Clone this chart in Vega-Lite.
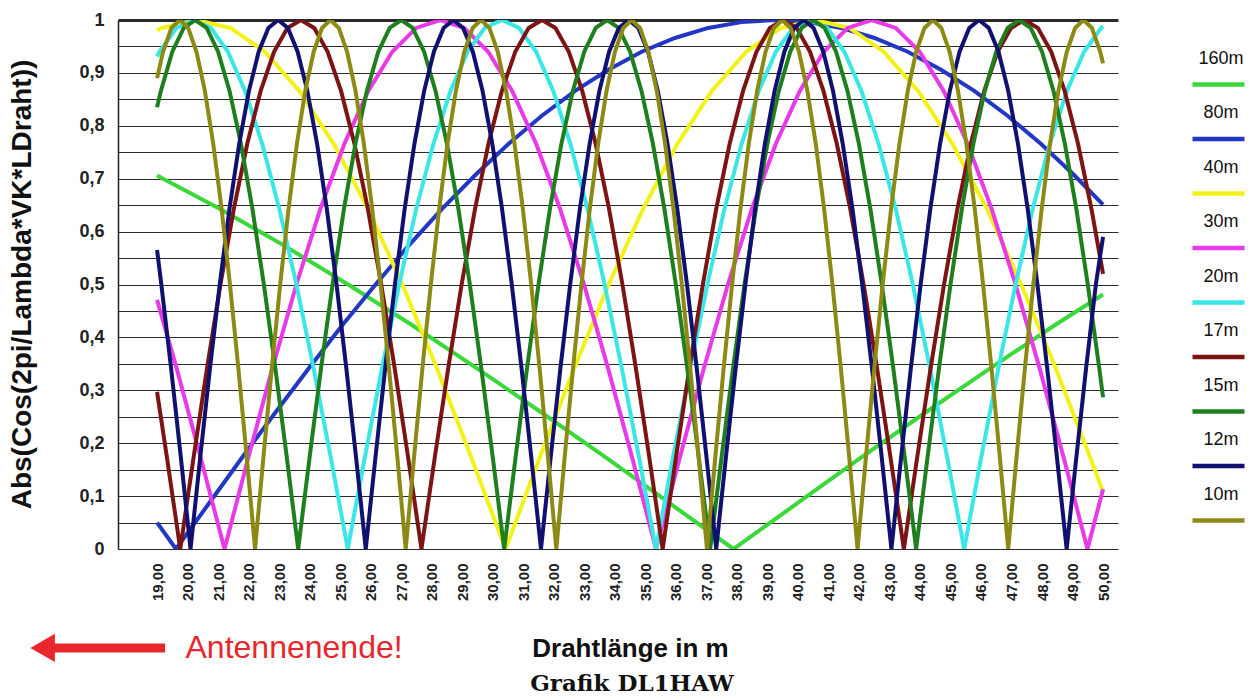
{
"$schema": "https://vega.github.io/schema/vega-lite/v6.json",
"width": 1000, "height": 529,
"autosize": {"type": "none"},
"padding": {"left": 118, "top": 20, "right": 137, "bottom": 151},
"background": "white",
"config": {"font": "Liberation Sans", "view": {"stroke": null},
"axisX": {"labelAngle": -90, "labelFontSize": 15, "labelFontWeight": "bold", "labelColor": "#222", "labelPadding": 14, "labelOverlap": false, "labelFlush": false, "labelBound": false,
"ticks": false, "domain": false, "grid": false,
"titleFontSize": 26, "titleFontWeight": "bold", "titleColor": "#111", "titleX": 512, "titleY": 99, "titleBaseline": "middle", "titleAlign": "center"},
"axisY": {"labelOverlap": false, "labelFlush": false, "labelBound": false, "labelFontSize": 18, "labelFontWeight": "bold", "labelColor": "#222", "labelPadding": 14,
"grid": true, "gridColor": "#2a2a2a", "gridOpacity": 1,
"ticks": false, "domain": true, "domainColor": "#222", "domainWidth": 1.5,
"titleFontSize": 28, "titleFontWeight": "bold", "titleColor": "#111", "titleX": -96, "titleY": 264, "titleAngle": 270, "titleAlign": "center", "titleBaseline": "middle"}
},
"title": {"text": "Grafik DL1HAW", "orient": "bottom", "anchor": "middle", "font": "DejaVu Serif", "fontSize": 23, "fontWeight": "bold", "color": "#111", "offset": 9, "dx": 14},
"datasets": {
"curves": [
{"band":"160m","len":19,"val":0.706},{"band":"160m","len":21.05,"val":0.643},{"band":"160m","len":23.155,"val":0.574},{"band":"160m","len":25.26,"val":0.5},{"band":"160m","len":27.365,"val":0.423},{"band":"160m","len":29.47,"val":0.342},{"band":"160m","len":31.575,"val":0.259},{"band":"160m","len":33.68,"val":0.174},{"band":"160m","len":35.785,"val":0.087},{"band":"160m","len":37.89,"val":0},{"band":"160m","len":39.995,"val":0.087},{"band":"160m","len":42.1,"val":0.174},{"band":"160m","len":44.205,"val":0.259},{"band":"160m","len":46.31,"val":0.342},{"band":"160m","len":48.415,"val":0.423},{"band":"160m","len":50,"val":0.481},
{"band":"80m","len":19,"val":0.05},{"band":"80m","len":19.62,"val":0},{"band":"80m","len":20.71,"val":0.087},{"band":"80m","len":21.8,"val":0.174},{"band":"80m","len":22.89,"val":0.259},{"band":"80m","len":23.98,"val":0.342},{"band":"80m","len":25.07,"val":0.423},{"band":"80m","len":26.16,"val":0.5},{"band":"80m","len":27.25,"val":0.574},{"band":"80m","len":28.34,"val":0.643},{"band":"80m","len":29.43,"val":0.707},{"band":"80m","len":30.52,"val":0.766},{"band":"80m","len":31.61,"val":0.819},{"band":"80m","len":32.7,"val":0.866},{"band":"80m","len":33.79,"val":0.906},{"band":"80m","len":34.88,"val":0.94},{"band":"80m","len":35.97,"val":0.966},{"band":"80m","len":37.06,"val":0.985},{"band":"80m","len":38.15,"val":0.996},{"band":"80m","len":39.24,"val":1},{"band":"80m","len":40.33,"val":0.996},{"band":"80m","len":41.42,"val":0.985},{"band":"80m","len":42.51,"val":0.966},{"band":"80m","len":43.6,"val":0.94},{"band":"80m","len":44.69,"val":0.906},{"band":"80m","len":45.78,"val":0.866},{"band":"80m","len":46.87,"val":0.819},{"band":"80m","len":47.96,"val":0.766},{"band":"80m","len":49.05,"val":0.707},{"band":"80m","len":50,"val":0.651},
{"band":"40m","len":19,"val":0.98},{"band":"40m","len":19.153,"val":0.985},{"band":"40m","len":20.28,"val":1},{"band":"40m","len":21.407,"val":0.985},{"band":"40m","len":22.533,"val":0.94},{"band":"40m","len":23.66,"val":0.866},{"band":"40m","len":24.787,"val":0.766},{"band":"40m","len":25.913,"val":0.643},{"band":"40m","len":27.04,"val":0.5},{"band":"40m","len":28.167,"val":0.342},{"band":"40m","len":29.293,"val":0.174},{"band":"40m","len":30.42,"val":0},{"band":"40m","len":31.547,"val":0.174},{"band":"40m","len":32.673,"val":0.342},{"band":"40m","len":33.8,"val":0.5},{"band":"40m","len":34.927,"val":0.643},{"band":"40m","len":36.053,"val":0.766},{"band":"40m","len":37.18,"val":0.866},{"band":"40m","len":38.307,"val":0.94},{"band":"40m","len":39.433,"val":0.985},{"band":"40m","len":40.56,"val":1},{"band":"40m","len":41.687,"val":0.985},{"band":"40m","len":42.813,"val":0.94},{"band":"40m","len":43.94,"val":0.866},{"band":"40m","len":45.067,"val":0.766},{"band":"40m","len":46.193,"val":0.643},{"band":"40m","len":47.32,"val":0.5},{"band":"40m","len":48.447,"val":0.342},{"band":"40m","len":49.573,"val":0.174},{"band":"40m","len":50,"val":0.108},
{"band":"30m","len":19,"val":0.471},{"band":"30m","len":19.639,"val":0.342},{"band":"30m","len":20.424,"val":0.174},{"band":"30m","len":21.21,"val":0},{"band":"30m","len":21.996,"val":0.174},{"band":"30m","len":22.781,"val":0.342},{"band":"30m","len":23.567,"val":0.5},{"band":"30m","len":24.352,"val":0.643},{"band":"30m","len":25.138,"val":0.766},{"band":"30m","len":25.923,"val":0.866},{"band":"30m","len":26.709,"val":0.94},{"band":"30m","len":27.494,"val":0.985},{"band":"30m","len":28.28,"val":1},{"band":"30m","len":29.066,"val":0.985},{"band":"30m","len":29.851,"val":0.94},{"band":"30m","len":30.637,"val":0.866},{"band":"30m","len":31.422,"val":0.766},{"band":"30m","len":32.208,"val":0.643},{"band":"30m","len":32.993,"val":0.5},{"band":"30m","len":33.779,"val":0.342},{"band":"30m","len":34.564,"val":0.174},{"band":"30m","len":35.35,"val":0},{"band":"30m","len":36.136,"val":0.174},{"band":"30m","len":36.921,"val":0.342},{"band":"30m","len":37.707,"val":0.5},{"band":"30m","len":38.492,"val":0.643},{"band":"30m","len":39.278,"val":0.766},{"band":"30m","len":40.063,"val":0.866},{"band":"30m","len":40.849,"val":0.94},{"band":"30m","len":41.634,"val":0.985},{"band":"30m","len":42.42,"val":1},{"band":"30m","len":43.206,"val":0.985},{"band":"30m","len":43.991,"val":0.94},{"band":"30m","len":44.777,"val":0.866},{"band":"30m","len":45.562,"val":0.766},{"band":"30m","len":46.348,"val":0.643},{"band":"30m","len":47.133,"val":0.5},{"band":"30m","len":47.919,"val":0.342},{"band":"30m","len":48.704,"val":0.174},{"band":"30m","len":49.49,"val":0},{"band":"30m","len":50,"val":0.113},
{"band":"20m","len":19,"val":0.931},{"band":"20m","len":19.078,"val":0.94},{"band":"20m","len":19.639,"val":0.985},{"band":"20m","len":20.2,"val":1},{"band":"20m","len":20.761,"val":0.985},{"band":"20m","len":21.322,"val":0.94},{"band":"20m","len":21.883,"val":0.866},{"band":"20m","len":22.444,"val":0.766},{"band":"20m","len":23.006,"val":0.643},{"band":"20m","len":23.567,"val":0.5},{"band":"20m","len":24.128,"val":0.342},{"band":"20m","len":24.689,"val":0.174},{"band":"20m","len":25.25,"val":0},{"band":"20m","len":25.811,"val":0.174},{"band":"20m","len":26.372,"val":0.342},{"band":"20m","len":26.933,"val":0.5},{"band":"20m","len":27.494,"val":0.643},{"band":"20m","len":28.056,"val":0.766},{"band":"20m","len":28.617,"val":0.866},{"band":"20m","len":29.178,"val":0.94},{"band":"20m","len":29.739,"val":0.985},{"band":"20m","len":30.3,"val":1},{"band":"20m","len":30.861,"val":0.985},{"band":"20m","len":31.422,"val":0.94},{"band":"20m","len":31.983,"val":0.866},{"band":"20m","len":32.544,"val":0.766},{"band":"20m","len":33.106,"val":0.643},{"band":"20m","len":33.667,"val":0.5},{"band":"20m","len":34.228,"val":0.342},{"band":"20m","len":34.789,"val":0.174},{"band":"20m","len":35.35,"val":0},{"band":"20m","len":35.911,"val":0.174},{"band":"20m","len":36.472,"val":0.342},{"band":"20m","len":37.033,"val":0.5},{"band":"20m","len":37.594,"val":0.643},{"band":"20m","len":38.156,"val":0.766},{"band":"20m","len":38.717,"val":0.866},{"band":"20m","len":39.278,"val":0.94},{"band":"20m","len":39.839,"val":0.985},{"band":"20m","len":40.4,"val":1},{"band":"20m","len":40.961,"val":0.985},{"band":"20m","len":41.522,"val":0.94},{"band":"20m","len":42.083,"val":0.866},{"band":"20m","len":42.644,"val":0.766},{"band":"20m","len":43.206,"val":0.643},{"band":"20m","len":43.767,"val":0.5},{"band":"20m","len":44.328,"val":0.342},{"band":"20m","len":44.889,"val":0.174},{"band":"20m","len":45.45,"val":0},{"band":"20m","len":46.011,"val":0.174},{"band":"20m","len":46.572,"val":0.342},{"band":"20m","len":47.133,"val":0.5},{"band":"20m","len":47.694,"val":0.643},{"band":"20m","len":48.256,"val":0.766},{"band":"20m","len":48.817,"val":0.866},{"band":"20m","len":49.378,"val":0.94},{"band":"20m","len":49.939,"val":0.985},{"band":"20m","len":50,"val":0.988},
{"band":"17m","len":19,"val":0.297},{"band":"17m","len":19.321,"val":0.174},{"band":"17m","len":19.76,"val":0},{"band":"17m","len":20.199,"val":0.174},{"band":"17m","len":20.638,"val":0.342},{"band":"17m","len":21.077,"val":0.5},{"band":"17m","len":21.516,"val":0.643},{"band":"17m","len":21.956,"val":0.766},{"band":"17m","len":22.395,"val":0.866},{"band":"17m","len":22.834,"val":0.94},{"band":"17m","len":23.273,"val":0.985},{"band":"17m","len":23.712,"val":1},{"band":"17m","len":24.151,"val":0.985},{"band":"17m","len":24.59,"val":0.94},{"band":"17m","len":25.029,"val":0.866},{"band":"17m","len":25.468,"val":0.766},{"band":"17m","len":25.908,"val":0.643},{"band":"17m","len":26.347,"val":0.5},{"band":"17m","len":26.786,"val":0.342},{"band":"17m","len":27.225,"val":0.174},{"band":"17m","len":27.664,"val":0},{"band":"17m","len":28.103,"val":0.174},{"band":"17m","len":28.542,"val":0.342},{"band":"17m","len":28.981,"val":0.5},{"band":"17m","len":29.42,"val":0.643},{"band":"17m","len":29.86,"val":0.766},{"band":"17m","len":30.299,"val":0.866},{"band":"17m","len":30.738,"val":0.94},{"band":"17m","len":31.177,"val":0.985},{"band":"17m","len":31.616,"val":1},{"band":"17m","len":32.055,"val":0.985},{"band":"17m","len":32.494,"val":0.94},{"band":"17m","len":32.933,"val":0.866},{"band":"17m","len":33.372,"val":0.766},{"band":"17m","len":33.812,"val":0.643},{"band":"17m","len":34.251,"val":0.5},{"band":"17m","len":34.69,"val":0.342},{"band":"17m","len":35.129,"val":0.174},{"band":"17m","len":35.568,"val":0},{"band":"17m","len":36.007,"val":0.174},{"band":"17m","len":36.446,"val":0.342},{"band":"17m","len":36.885,"val":0.5},{"band":"17m","len":37.324,"val":0.643},{"band":"17m","len":37.764,"val":0.766},{"band":"17m","len":38.203,"val":0.866},{"band":"17m","len":38.642,"val":0.94},{"band":"17m","len":39.081,"val":0.985},{"band":"17m","len":39.52,"val":1},{"band":"17m","len":39.959,"val":0.985},{"band":"17m","len":40.398,"val":0.94},{"band":"17m","len":40.837,"val":0.866},{"band":"17m","len":41.276,"val":0.766},{"band":"17m","len":41.716,"val":0.643},{"band":"17m","len":42.155,"val":0.5},{"band":"17m","len":42.594,"val":0.342},{"band":"17m","len":43.033,"val":0.174},{"band":"17m","len":43.472,"val":0},{"band":"17m","len":43.911,"val":0.174},{"band":"17m","len":44.35,"val":0.342},{"band":"17m","len":44.789,"val":0.5},{"band":"17m","len":45.228,"val":0.643},{"band":"17m","len":45.668,"val":0.766},{"band":"17m","len":46.107,"val":0.866},{"band":"17m","len":46.546,"val":0.94},{"band":"17m","len":46.985,"val":0.985},{"band":"17m","len":47.424,"val":1},{"band":"17m","len":47.863,"val":0.985},{"band":"17m","len":48.302,"val":0.94},{"band":"17m","len":48.741,"val":0.866},{"band":"17m","len":49.18,"val":0.766},{"band":"17m","len":49.62,"val":0.643},{"band":"17m","len":50,"val":0.52},
{"band":"15m","len":19,"val":0.835},{"band":"15m","len":19.125,"val":0.866},{"band":"15m","len":19.5,"val":0.94},{"band":"15m","len":19.875,"val":0.985},{"band":"15m","len":20.25,"val":1},{"band":"15m","len":20.625,"val":0.985},{"band":"15m","len":21.0,"val":0.94},{"band":"15m","len":21.375,"val":0.866},{"band":"15m","len":21.75,"val":0.766},{"band":"15m","len":22.125,"val":0.643},{"band":"15m","len":22.5,"val":0.5},{"band":"15m","len":22.875,"val":0.342},{"band":"15m","len":23.25,"val":0.174},{"band":"15m","len":23.625,"val":0},{"band":"15m","len":24.0,"val":0.174},{"band":"15m","len":24.375,"val":0.342},{"band":"15m","len":24.75,"val":0.5},{"band":"15m","len":25.125,"val":0.643},{"band":"15m","len":25.5,"val":0.766},{"band":"15m","len":25.875,"val":0.866},{"band":"15m","len":26.25,"val":0.94},{"band":"15m","len":26.625,"val":0.985},{"band":"15m","len":27.0,"val":1},{"band":"15m","len":27.375,"val":0.985},{"band":"15m","len":27.75,"val":0.94},{"band":"15m","len":28.125,"val":0.866},{"band":"15m","len":28.5,"val":0.766},{"band":"15m","len":28.875,"val":0.643},{"band":"15m","len":29.25,"val":0.5},{"band":"15m","len":29.625,"val":0.342},{"band":"15m","len":30.0,"val":0.174},{"band":"15m","len":30.375,"val":0},{"band":"15m","len":30.75,"val":0.174},{"band":"15m","len":31.125,"val":0.342},{"band":"15m","len":31.5,"val":0.5},{"band":"15m","len":31.875,"val":0.643},{"band":"15m","len":32.25,"val":0.766},{"band":"15m","len":32.625,"val":0.866},{"band":"15m","len":33.0,"val":0.94},{"band":"15m","len":33.375,"val":0.985},{"band":"15m","len":33.75,"val":1},{"band":"15m","len":34.125,"val":0.985},{"band":"15m","len":34.5,"val":0.94},{"band":"15m","len":34.875,"val":0.866},{"band":"15m","len":35.25,"val":0.766},{"band":"15m","len":35.625,"val":0.643},{"band":"15m","len":36.0,"val":0.5},{"band":"15m","len":36.375,"val":0.342},{"band":"15m","len":36.75,"val":0.174},{"band":"15m","len":37.125,"val":0},{"band":"15m","len":37.5,"val":0.174},{"band":"15m","len":37.875,"val":0.342},{"band":"15m","len":38.25,"val":0.5},{"band":"15m","len":38.625,"val":0.643},{"band":"15m","len":39.0,"val":0.766},{"band":"15m","len":39.375,"val":0.866},{"band":"15m","len":39.75,"val":0.94},{"band":"15m","len":40.125,"val":0.985},{"band":"15m","len":40.5,"val":1},{"band":"15m","len":40.875,"val":0.985},{"band":"15m","len":41.25,"val":0.94},{"band":"15m","len":41.625,"val":0.866},{"band":"15m","len":42.0,"val":0.766},{"band":"15m","len":42.375,"val":0.643},{"band":"15m","len":42.75,"val":0.5},{"band":"15m","len":43.125,"val":0.342},{"band":"15m","len":43.5,"val":0.174},{"band":"15m","len":43.875,"val":0},{"band":"15m","len":44.25,"val":0.174},{"band":"15m","len":44.625,"val":0.342},{"band":"15m","len":45.0,"val":0.5},{"band":"15m","len":45.375,"val":0.643},{"band":"15m","len":45.75,"val":0.766},{"band":"15m","len":46.125,"val":0.866},{"band":"15m","len":46.5,"val":0.94},{"band":"15m","len":46.875,"val":0.985},{"band":"15m","len":47.25,"val":1},{"band":"15m","len":47.625,"val":0.985},{"band":"15m","len":48.0,"val":0.94},{"band":"15m","len":48.375,"val":0.866},{"band":"15m","len":48.75,"val":0.766},{"band":"15m","len":49.125,"val":0.643},{"band":"15m","len":49.5,"val":0.5},{"band":"15m","len":49.875,"val":0.342},{"band":"15m","len":50,"val":0.287},
{"band":"12m","len":19,"val":0.565},{"band":"12m","len":19.14,"val":0.5},{"band":"12m","len":19.459,"val":0.342},{"band":"12m","len":19.778,"val":0.174},{"band":"12m","len":20.097,"val":0},{"band":"12m","len":20.416,"val":0.174},{"band":"12m","len":20.735,"val":0.342},{"band":"12m","len":21.054,"val":0.5},{"band":"12m","len":21.373,"val":0.643},{"band":"12m","len":21.692,"val":0.766},{"band":"12m","len":22.011,"val":0.866},{"band":"12m","len":22.33,"val":0.94},{"band":"12m","len":22.649,"val":0.985},{"band":"12m","len":22.968,"val":1},{"band":"12m","len":23.287,"val":0.985},{"band":"12m","len":23.606,"val":0.94},{"band":"12m","len":23.925,"val":0.866},{"band":"12m","len":24.244,"val":0.766},{"band":"12m","len":24.563,"val":0.643},{"band":"12m","len":24.882,"val":0.5},{"band":"12m","len":25.201,"val":0.342},{"band":"12m","len":25.52,"val":0.174},{"band":"12m","len":25.839,"val":0},{"band":"12m","len":26.158,"val":0.174},{"band":"12m","len":26.477,"val":0.342},{"band":"12m","len":26.796,"val":0.5},{"band":"12m","len":27.115,"val":0.643},{"band":"12m","len":27.434,"val":0.766},{"band":"12m","len":27.753,"val":0.866},{"band":"12m","len":28.072,"val":0.94},{"band":"12m","len":28.391,"val":0.985},{"band":"12m","len":28.71,"val":1},{"band":"12m","len":29.029,"val":0.985},{"band":"12m","len":29.348,"val":0.94},{"band":"12m","len":29.667,"val":0.866},{"band":"12m","len":29.986,"val":0.766},{"band":"12m","len":30.305,"val":0.643},{"band":"12m","len":30.624,"val":0.5},{"band":"12m","len":30.943,"val":0.342},{"band":"12m","len":31.262,"val":0.174},{"band":"12m","len":31.581,"val":0},{"band":"12m","len":31.9,"val":0.174},{"band":"12m","len":32.219,"val":0.342},{"band":"12m","len":32.538,"val":0.5},{"band":"12m","len":32.857,"val":0.643},{"band":"12m","len":33.176,"val":0.766},{"band":"12m","len":33.495,"val":0.866},{"band":"12m","len":33.814,"val":0.94},{"band":"12m","len":34.133,"val":0.985},{"band":"12m","len":34.452,"val":1},{"band":"12m","len":34.771,"val":0.985},{"band":"12m","len":35.09,"val":0.94},{"band":"12m","len":35.409,"val":0.866},{"band":"12m","len":35.728,"val":0.766},{"band":"12m","len":36.047,"val":0.643},{"band":"12m","len":36.366,"val":0.5},{"band":"12m","len":36.685,"val":0.342},{"band":"12m","len":37.004,"val":0.174},{"band":"12m","len":37.323,"val":0},{"band":"12m","len":37.642,"val":0.174},{"band":"12m","len":37.961,"val":0.342},{"band":"12m","len":38.28,"val":0.5},{"band":"12m","len":38.599,"val":0.643},{"band":"12m","len":38.918,"val":0.766},{"band":"12m","len":39.237,"val":0.866},{"band":"12m","len":39.556,"val":0.94},{"band":"12m","len":39.875,"val":0.985},{"band":"12m","len":40.194,"val":1},{"band":"12m","len":40.513,"val":0.985},{"band":"12m","len":40.832,"val":0.94},{"band":"12m","len":41.151,"val":0.866},{"band":"12m","len":41.47,"val":0.766},{"band":"12m","len":41.789,"val":0.643},{"band":"12m","len":42.108,"val":0.5},{"band":"12m","len":42.427,"val":0.342},{"band":"12m","len":42.746,"val":0.174},{"band":"12m","len":43.065,"val":0},{"band":"12m","len":43.384,"val":0.174},{"band":"12m","len":43.703,"val":0.342},{"band":"12m","len":44.022,"val":0.5},{"band":"12m","len":44.341,"val":0.643},{"band":"12m","len":44.66,"val":0.766},{"band":"12m","len":44.979,"val":0.866},{"band":"12m","len":45.298,"val":0.94},{"band":"12m","len":45.617,"val":0.985},{"band":"12m","len":45.936,"val":1},{"band":"12m","len":46.255,"val":0.985},{"band":"12m","len":46.574,"val":0.94},{"band":"12m","len":46.893,"val":0.866},{"band":"12m","len":47.212,"val":0.766},{"band":"12m","len":47.531,"val":0.643},{"band":"12m","len":47.85,"val":0.5},{"band":"12m","len":48.169,"val":0.342},{"band":"12m","len":48.488,"val":0.174},{"band":"12m","len":48.807,"val":0},{"band":"12m","len":49.126,"val":0.174},{"band":"12m","len":49.445,"val":0.342},{"band":"12m","len":49.764,"val":0.5},{"band":"12m","len":50,"val":0.59},
{"band":"10m","len":19,"val":0.89},{"band":"10m","len":19.196,"val":0.94},{"band":"10m","len":19.47,"val":0.985},{"band":"10m","len":19.744,"val":1},{"band":"10m","len":20.018,"val":0.985},{"band":"10m","len":20.292,"val":0.94},{"band":"10m","len":20.567,"val":0.866},{"band":"10m","len":20.841,"val":0.766},{"band":"10m","len":21.115,"val":0.643},{"band":"10m","len":21.389,"val":0.5},{"band":"10m","len":21.664,"val":0.342},{"band":"10m","len":21.938,"val":0.174},{"band":"10m","len":22.212,"val":0},{"band":"10m","len":22.486,"val":0.174},{"band":"10m","len":22.76,"val":0.342},{"band":"10m","len":23.035,"val":0.5},{"band":"10m","len":23.309,"val":0.643},{"band":"10m","len":23.583,"val":0.766},{"band":"10m","len":23.857,"val":0.866},{"band":"10m","len":24.132,"val":0.94},{"band":"10m","len":24.406,"val":0.985},{"band":"10m","len":24.68,"val":1},{"band":"10m","len":24.954,"val":0.985},{"band":"10m","len":25.228,"val":0.94},{"band":"10m","len":25.503,"val":0.866},{"band":"10m","len":25.777,"val":0.766},{"band":"10m","len":26.051,"val":0.643},{"band":"10m","len":26.325,"val":0.5},{"band":"10m","len":26.6,"val":0.342},{"band":"10m","len":26.874,"val":0.174},{"band":"10m","len":27.148,"val":0},{"band":"10m","len":27.422,"val":0.174},{"band":"10m","len":27.696,"val":0.342},{"band":"10m","len":27.971,"val":0.5},{"band":"10m","len":28.245,"val":0.643},{"band":"10m","len":28.519,"val":0.766},{"band":"10m","len":28.793,"val":0.866},{"band":"10m","len":29.068,"val":0.94},{"band":"10m","len":29.342,"val":0.985},{"band":"10m","len":29.616,"val":1},{"band":"10m","len":29.89,"val":0.985},{"band":"10m","len":30.164,"val":0.94},{"band":"10m","len":30.439,"val":0.866},{"band":"10m","len":30.713,"val":0.766},{"band":"10m","len":30.987,"val":0.643},{"band":"10m","len":31.261,"val":0.5},{"band":"10m","len":31.536,"val":0.342},{"band":"10m","len":31.81,"val":0.174},{"band":"10m","len":32.084,"val":0},{"band":"10m","len":32.358,"val":0.174},{"band":"10m","len":32.632,"val":0.342},{"band":"10m","len":32.907,"val":0.5},{"band":"10m","len":33.181,"val":0.643},{"band":"10m","len":33.455,"val":0.766},{"band":"10m","len":33.729,"val":0.866},{"band":"10m","len":34.004,"val":0.94},{"band":"10m","len":34.278,"val":0.985},{"band":"10m","len":34.552,"val":1},{"band":"10m","len":34.826,"val":0.985},{"band":"10m","len":35.1,"val":0.94},{"band":"10m","len":35.375,"val":0.866},{"band":"10m","len":35.649,"val":0.766},{"band":"10m","len":35.923,"val":0.643},{"band":"10m","len":36.197,"val":0.5},{"band":"10m","len":36.472,"val":0.342},{"band":"10m","len":36.746,"val":0.174},{"band":"10m","len":37.02,"val":0},{"band":"10m","len":37.294,"val":0.174},{"band":"10m","len":37.568,"val":0.342},{"band":"10m","len":37.843,"val":0.5},{"band":"10m","len":38.117,"val":0.643},{"band":"10m","len":38.391,"val":0.766},{"band":"10m","len":38.665,"val":0.866},{"band":"10m","len":38.94,"val":0.94},{"band":"10m","len":39.214,"val":0.985},{"band":"10m","len":39.488,"val":1},{"band":"10m","len":39.762,"val":0.985},{"band":"10m","len":40.036,"val":0.94},{"band":"10m","len":40.311,"val":0.866},{"band":"10m","len":40.585,"val":0.766},{"band":"10m","len":40.859,"val":0.643},{"band":"10m","len":41.133,"val":0.5},{"band":"10m","len":41.408,"val":0.342},{"band":"10m","len":41.682,"val":0.174},{"band":"10m","len":41.956,"val":0},{"band":"10m","len":42.23,"val":0.174},{"band":"10m","len":42.504,"val":0.342},{"band":"10m","len":42.779,"val":0.5},{"band":"10m","len":43.053,"val":0.643},{"band":"10m","len":43.327,"val":0.766},{"band":"10m","len":43.601,"val":0.866},{"band":"10m","len":43.876,"val":0.94},{"band":"10m","len":44.15,"val":0.985},{"band":"10m","len":44.424,"val":1},{"band":"10m","len":44.698,"val":0.985},{"band":"10m","len":44.972,"val":0.94},{"band":"10m","len":45.247,"val":0.866},{"band":"10m","len":45.521,"val":0.766},{"band":"10m","len":45.795,"val":0.643},{"band":"10m","len":46.069,"val":0.5},{"band":"10m","len":46.344,"val":0.342},{"band":"10m","len":46.618,"val":0.174},{"band":"10m","len":46.892,"val":0},{"band":"10m","len":47.166,"val":0.174},{"band":"10m","len":47.44,"val":0.342},{"band":"10m","len":47.715,"val":0.5},{"band":"10m","len":47.989,"val":0.643},{"band":"10m","len":48.263,"val":0.766},{"band":"10m","len":48.537,"val":0.866},{"band":"10m","len":48.812,"val":0.94},{"band":"10m","len":49.086,"val":0.985},{"band":"10m","len":49.36,"val":1},{"band":"10m","len":49.634,"val":0.985},{"band":"10m","len":49.908,"val":0.94},{"band":"10m","len":50,"val":0.918}
],
"arrow": [{"len": 15.5, "len2": 19.26, "val": -0.187}],
"head": [{"len": 15.25, "val": -0.187}],
"note": [{"label": "Antennenende!", "len": 23.49, "val": -0.187}]
},
"encoding": {
"x": {"field": "len", "type": "quantitative", "scale": {"domain": [17.72, 50.49], "nice": false, "zero": false}, "title": "Drahtlänge in m",
"axis": {"values": [19,20,21,22,23,24,25,26,27,28,29,30,31,32,33,34,35,36,37,38,39,40,41,42,43,44,45,46,47,48,49,50], "labelExpr": "replace(format(datum.value, '.2f'), '.', ',')"}},
"y": {"field": "val", "type": "quantitative", "scale": {"domain": [0, 1], "nice": false}, "title": "Abs(Cos(2pi/Lambda*VK*LDraht))",
"axis": {"values": [0,0.05,0.1,0.15,0.2,0.25,0.3,0.35,0.4,0.45,0.5,0.55,0.6,0.65,0.7,0.75,0.8,0.85,0.9,0.95,1],
"labelExpr": "round(datum.value*20) % 2 == 0 ? replace(format(datum.value, '~g'), '.', ',') : ''",
"gridWidth": {"condition": {"test": "datum.value == 1", "value": 3}, "value": 1.2}}}
},
"layer": [
{
"data": {"name": "curves"},
"mark": {"type": "line", "strokeWidth": 4, "clip": true},
"encoding": {
"color": {"field": "band", "type": "nominal",
"scale": {"domain": ["160m","80m","40m","30m","20m","17m","15m","12m","10m"], "range": ["#3ad83a","#2238c4","#f2f21a","#e83ae8","#3ae6e6","#7d1414","#1f7f1f","#101070","#8c8a14"]},
"legend": {"orient": "none", "legendX": 1072, "legendY": 36, "title": null, "padding": 0, "symbolType": "stroke", "symbolSize": 2704, "symbolStrokeWidth": 4.5, "labelFontSize": 18, "labelColor": "#111", "labelAlign": "center", "labelOffset": -26, "rowPadding": 9.5, "encode": {"labels": {"update": {"dy": {"value": -26}}}}}}
}
},
{
"data": {"name": "arrow"},
"mark": {"type": "rule", "color": "#e8262b", "strokeWidth": 9, "clip": false},
"encoding": {"x2": {"field": "len2"}}
},
{
"data": {"name": "head"},
"mark": {"type": "point", "shape": "triangle-left", "filled": true, "color": "#e8262b", "opacity": 1, "size": 800, "clip": false},
"encoding": {}
},
{
"data": {"name": "note"},
"mark": {"type": "text", "color": "#e8262b", "fontSize": 32, "font": "Liberation Sans", "align": "center", "baseline": "middle", "clip": false},
"encoding": {"text": {"field": "label"}}
}
]
}
